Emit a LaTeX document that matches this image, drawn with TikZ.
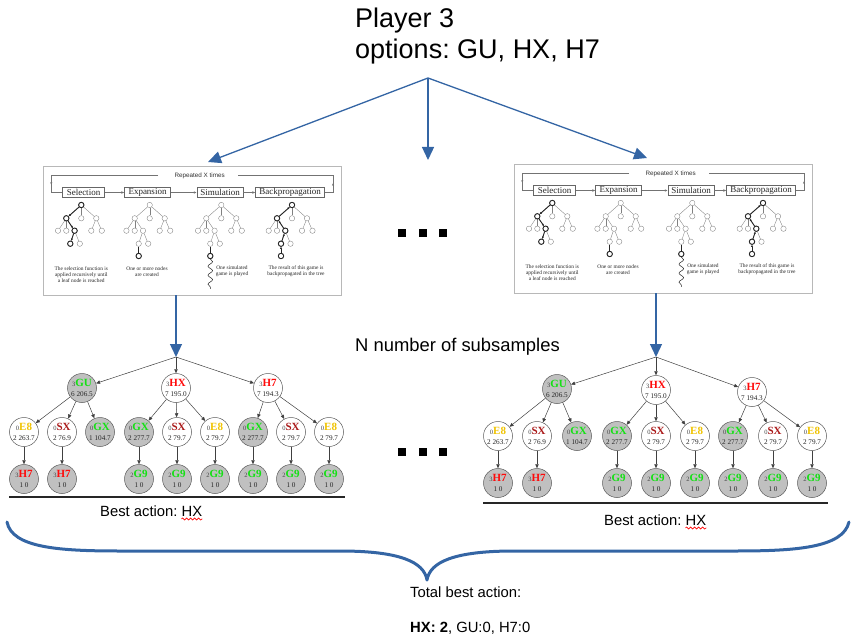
\documentclass[tikz,border=0pt]{standalone}
\usepackage{fontspec}
\setmainfont{Liberation Sans}
\newfontfamily\serif{Liberation Serif}
\usetikzlibrary{arrows.meta,decorations.pathmorphing}
\frenchspacing
\definecolor{lobl}{RGB}{52,101,164}
\definecolor{cgreen}{RGB}{20,225,20}
\definecolor{cred}{RGB}{255,10,10}
\definecolor{csx}{RGB}{170,25,25}
\definecolor{cgold}{RGB}{240,195,0}
\definecolor{ngray}{RGB}{192,192,192}
\definecolor{numc}{RGB}{70,70,70}

\newcommand\nd[4]{{\fontsize{6.5}{6.5}\selectfont\color{numc}#1}{\fontsize{11}{11}\selectfont\bfseries\color{#2}#3}\\{#4}}

\newcommand\minitree[4]{%
\begin{scope}[shift={(#2,#3)}]
\foreach \n/\x/\y in {r/0/0,a/-15/13.3,b/0/13.3,c/15/13.3,d/-23.3/25.7,e/-15/25.7,f/-6.7/25.7,g/10/25.7,h/20.5/25.7,i/-11/38.7,j/-1.5/38.7}{\node[mc] (#1\n) at (\x,\y) {};}
\foreach \p/\q in {r/a,r/b,r/c,a/d,a/e,a/f,c/g,c/h,f/i,f/j}{\draw[me] (#1\p) -- (#1\q);}
\ifcase#4
 \draw[mb,-{Latex[length=2.4pt,width=2.2pt]}] (#1r) -- (#1a);
 \draw[mb,-{Latex[length=2.4pt,width=2.2pt]}] (#1a) -- (#1f);
 \draw[mb,-{Latex[length=2.4pt,width=2.2pt]}] (#1f) -- (#1i);
 \foreach \n in {r,a,f,i}{\draw[mb] (#1\n) circle (2.7pt);}
\or
 \node[mc] (#1k) at (-11,51) {};
 \draw[mb] (#1i) -- (#1k);
 \draw[mb] (#1k) circle (2.7pt);
\or
 \node[mc] (#1k) at (-11,51) {};
 \draw[mb] (#1i) -- (#1k);
 \draw[mb] (#1k) circle (2.7pt);
 \draw[mb, line width=0.5pt, decorate, decoration={snake, segment length=9pt, amplitude=2.3pt}] (#1k.south) -- ++(0,30);
\or
 \node[mc] (#1k) at (-11,51) {};
 \draw[mb,-{Latex[length=2.4pt,width=2.2pt]}] (#1k) -- (#1i);
 \draw[mb,-{Latex[length=2.4pt,width=2.2pt]}] (#1i) -- (#1f);
 \draw[mb,-{Latex[length=2.4pt,width=2.2pt]}] (#1f) -- (#1a);
 \draw[mb,-{Latex[length=2.4pt,width=2.2pt]}] (#1a) -- (#1r);
 \foreach \n in {r,a,f,i,k}{\draw[mb] (#1\n) circle (2.7pt);}
\fi
\end{scope}}

\newcommand\mctspanel[3]{%
\begin{scope}[shift={(#2,#3)}]
\node[pframe] (#1fr) at (149,64.5) {};
\node[pbox, minimum width=42.4pt] (#1sel) at (40.5,26.5) {Selection};
\node[pbox, minimum width=45.6pt] (#1exp) at (104.5,26.5) {Expansion};
\node[pbox, minimum width=46pt] (#1sim) at (177,26.5) {Simulation};
\node[pbox, minimum width=69pt] (#1bak) at (247.2,26.5) {Backpropagation};
\node[prep] (#1rep) at (156.7,9.7) {Repeated X times};
\draw[pl,-{Latex[length=3pt,width=2.4pt]}] (#1sel) -- (#1exp);
\draw[pl,-{Latex[length=3pt,width=2.4pt]}] (#1exp) -- (#1sim);
\draw[pl,-{Latex[length=3pt,width=2.4pt]}] (#1sim) -- (#1bak);
\draw[pl] (#1bak.east) -- (290,26.5) -- (290,9.7) -- (195,9.7);
\draw[pl,-{Latex[length=2.5pt,width=2.2pt]}] (290,26.5) -- (290,17);
\draw[pl] (115,9.7) -- (8.3,9.7) -- (8.3,26.5) -- (#1sel.west);
\draw[pl,-{Latex[length=2.5pt,width=2.2pt]}] (8.3,9.7) -- (8.3,19);
\minitree{#1s}{38.3}{39}{0}
\minitree{#1e}{106.7}{39}{1}
\minitree{#1m}{178.3}{39}{2}
\minitree{#1b}{249}{39}{3}
\node[pcap] (#1c1) at (38.3,108.5) {The selection function is\\applied recursively until\\a leaf node is reached};
\node[pcap] (#1c2) at (104,105.6) {One or more nodes\\are created};
\node[pcap] (#1c3) at (189,105.6) {One simulated\\game is played};
\node[pcap] (#1c4) at (253,105.6) {The result of this game is\\backpropagated in the tree};
\end{scope}}

\begin{document}
\begin{tikzpicture}[x=1pt,y=-1pt,
  barrow/.style={draw=lobl, line width=1.3pt, -{Triangle[length=13pt,width=12pt]}},
  pframe/.style={draw=black!28, line width=0.7pt, fill=white, minimum width=298pt, minimum height=129pt, inner sep=0pt},
  pbox/.style={draw=black!60, line width=0.45pt, fill=white, minimum height=9.6pt, inner sep=0.5pt, font=\serif\fontsize{9}{9}\selectfont, text=black!85},
  prep/.style={inner sep=0pt, font=\fontsize{6.3}{7}\selectfont, text=black!80},
  pl/.style={draw=black!55, line width=0.45pt},
  pcap/.style={inner sep=0pt, align=center, font=\serif\fontsize{5.4}{6}\selectfont, text=black!85},
  mc/.style={circle, draw=black!50, line width=0.35pt, minimum size=5.4pt, inner sep=0pt, fill=white},
  me/.style={draw=black!50, line width=0.35pt},
  mb/.style={draw=black!85, line width=0.9pt},
  tn/.style={circle, draw=black!65, line width=0.5pt, minimum size=29pt, inner sep=0pt, fill=white, align=center, font=\serif\fontsize{7.2}{10.5}\selectfont, text=black!85},
  tg/.style={tn, fill=ngray},
  te/.style={draw=black!75, line width=0.5pt, -{Triangle[length=4pt,width=3.4pt]}},
  dotsq/.style={rectangle, fill=black, minimum size=8pt, inner sep=0pt},
  lbl/.style={anchor=base west, inner sep=0pt, font=\fontsize{14.8}{16}\selectfont},
  wavy/.style={draw=red, line width=0.6pt, decorate, decoration={snake, segment length=4pt, amplitude=1pt}}
]
\useasboundingbox (0,0) rectangle (853,644);

% title
\node[anchor=base west, inner sep=0pt, font=\fontsize{27}{30}\selectfont] (t1) at (355,28) {Player 3};
\node[anchor=base west, inner sep=0pt, font=\fontsize{27}{30}\selectfont] (t2) at (355,59) {options: GU, HX, H7};

% top arrows
\coordinate (ttop) at (428,78);
\coordinate (tl) at (208,162);
\coordinate (tm) at (428,160);
\coordinate (tr) at (647,158);
\draw[barrow] (ttop) -- (tl);
\draw[barrow] (ttop) -- (tm);
\draw[barrow] (ttop) -- (tr);

% panels
\mctspanel{L}{43}{166}
\mctspanel{R}{514}{164}

% dots
\node[dotsq] (d1) at (402,233) {};
\node[dotsq] (d2) at (423,233) {};
\node[dotsq] (d3) at (443,233) {};
\node[dotsq] (d4) at (402,452) {};
\node[dotsq] (d5) at (423,452) {};
\node[dotsq] (d6) at (443,452) {};

\node[anchor=base west, inner sep=0pt, font=\fontsize{18.4}{20}\selectfont] (nsub) at (355,351) {N number of subsamples};

% left tree
\coordinate (Ltop) at (176,357);
\draw[barrow] (Lfr.south -| Ltop) -- (Ltop);
\node[tg] (Lgu) at (82,388) {\nd{3}{cgreen}{GU}{6 206.5}};
\node[tn] (Lhx) at (176,388) {\nd{3}{cred}{HX}{7 195.0}};
\node[tn] (Lh7) at (268,388) {\nd{3}{cred}{H7}{7 194.3}};
\node[tn] (L1) at (24,432) {\nd{0}{cgold}{E8}{2 263.7}};
\node[tn] (L2) at (62,432) {\nd{0}{csx}{SX}{2 76.9}};
\node[tg] (L3) at (100,432) {\nd{0}{cgreen}{GX}{1 104.7}};
\node[tg] (L4) at (139,432) {\nd{0}{cgreen}{GX}{2 277.7}};
\node[tn] (L5) at (177,432) {\nd{0}{csx}{SX}{2 79.7}};
\node[tn] (L6) at (215,432) {\nd{0}{cgold}{E8}{2 79.7}};
\node[tg] (L7) at (253,432) {\nd{0}{cgreen}{GX}{2 277.7}};
\node[tn] (L8) at (291,432) {\nd{0}{csx}{SX}{2 79.7}};
\node[tn] (L9) at (329,432) {\nd{0}{cgold}{E8}{2 79.7}};
\node[tg] (L1c) at (24,479) {\nd{3}{cred}{H7}{1 0}};
\node[tg] (L2c) at (62,479) {\nd{3}{cred}{H7}{1 0}};
\node[tg] (L4c) at (139,479) {\nd{2}{cgreen}{G9}{1 0}};
\node[tg] (L5c) at (177,479) {\nd{2}{cgreen}{G9}{1 0}};
\node[tg] (L6c) at (215,479) {\nd{2}{cgreen}{G9}{1 0}};
\node[tg] (L7c) at (253,479) {\nd{2}{cgreen}{G9}{1 0}};
\node[tg] (L8c) at (291,479) {\nd{2}{cgreen}{G9}{1 0}};
\node[tg] (L9c) at (329,479) {\nd{2}{cgreen}{G9}{1 0}};
\foreach \a/\b in {Ltop/Lgu,Ltop/Lhx,Ltop/Lh7,Lgu/L1,Lgu/L2,Lgu/L3,Lhx/L4,Lhx/L5,Lhx/L6,Lh7/L7,Lh7/L8,Lh7/L9,L1/L1c,L2/L2c,L4/L4c,L5/L5c,L6/L6c,L7/L7c,L8/L8c,L9/L9c}{\draw[te] (\a) -- (\b);}
\draw[line width=1.4pt, draw=black!85] (9,497) -- (345,497);
\node[lbl] (ba1) at (100,516) {Best action: HX};
\draw[wavy] ([xshift=-21pt,yshift=-3pt]ba1.base east) -- ([yshift=-3pt]ba1.base east);

% right tree
\coordinate (Rtop) at (656,357);
\draw[barrow] (Rfr.south -| Rtop) -- (Rtop);
\node[tg] (Rgu) at (557,389) {\nd{3}{cgreen}{GU}{6 206.5}};
\node[tn] (Rhx) at (656,390) {\nd{3}{cred}{HX}{7 195.0}};
\node[tn] (Rh7) at (752,392) {\nd{3}{cred}{H7}{7 194.3}};
\node[tn] (R1) at (498,436) {\nd{0}{cgold}{E8}{2 263.7}};
\node[tn] (R2) at (537,436) {\nd{0}{csx}{SX}{2 76.9}};
\node[tg] (R3) at (577,436) {\nd{0}{cgreen}{GX}{1 104.7}};
\node[tg] (R4) at (617,436) {\nd{0}{cgreen}{GX}{2 277.7}};
\node[tn] (R5) at (656,436) {\nd{0}{csx}{SX}{2 79.7}};
\node[tn] (R6) at (695,436) {\nd{0}{cgold}{E8}{2 79.7}};
\node[tg] (R7) at (733,436) {\nd{0}{cgreen}{GX}{2 277.7}};
\node[tn] (R8) at (773,436) {\nd{0}{csx}{SX}{2 79.7}};
\node[tn] (R9) at (812,436) {\nd{0}{cgold}{E8}{2 79.7}};
\node[tg] (R1c) at (498,483) {\nd{3}{cred}{H7}{1 0}};
\node[tg] (R2c) at (537,483) {\nd{3}{cred}{H7}{1 0}};
\node[tg] (R4c) at (617,483) {\nd{2}{cgreen}{G9}{1 0}};
\node[tg] (R5c) at (656,483) {\nd{2}{cgreen}{G9}{1 0}};
\node[tg] (R6c) at (695,483) {\nd{2}{cgreen}{G9}{1 0}};
\node[tg] (R7c) at (733,483) {\nd{2}{cgreen}{G9}{1 0}};
\node[tg] (R8c) at (773,483) {\nd{2}{cgreen}{G9}{1 0}};
\node[tg] (R9c) at (812,483) {\nd{2}{cgreen}{G9}{1 0}};
\foreach \a/\b in {Rtop/Rgu,Rtop/Rhx,Rtop/Rh7,Rgu/R1,Rgu/R2,Rgu/R3,Rhx/R4,Rhx/R5,Rhx/R6,Rh7/R7,Rh7/R8,Rh7/R9,R1/R1c,R2/R2c,R4/R4c,R5/R5c,R6/R6c,R7/R7c,R8/R8c,R9/R9c}{\draw[te] (\a) -- (\b);}
\draw[line width=1.4pt, draw=black!85] (483,503) -- (828,503);
\node[lbl] (ba2) at (604,525) {Best action: HX};
\draw[wavy] ([xshift=-21pt,yshift=-3pt]ba2.base east) -- ([yshift=-3pt]ba2.base east);

% brace
\draw[draw=lobl, line width=3pt, line cap=round, line join=round]
  (7,522) .. controls (12,548) and (60,551) .. (120,551) -- (340,551)
  .. controls (400,551) and (424,562) .. (427,580)
  .. controls (430,562) and (454,551) .. (514,551) -- (735,551)
  .. controls (795,551) and (843,548) .. (849,522);

\node[lbl] (tot) at (410,597) {Total best action:};
\node[lbl] (res) at (410,632) {\textbf{HX: 2}, GU:0, H7:0};
\end{tikzpicture}
\end{document}
